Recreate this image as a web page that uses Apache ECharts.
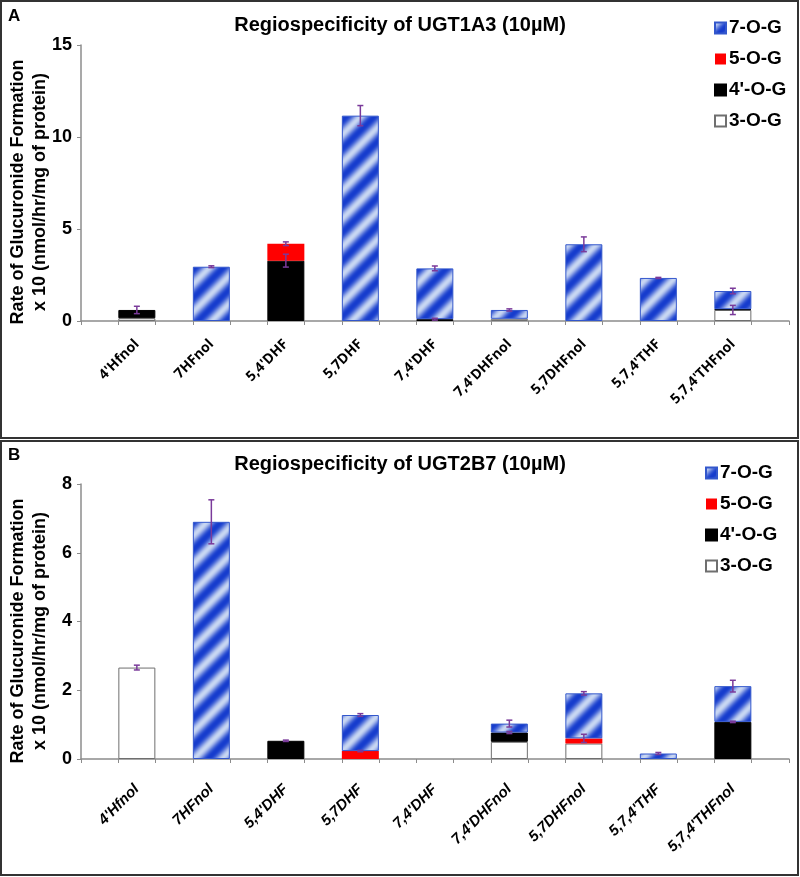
<!DOCTYPE html>
<html>
<head>
<meta charset="utf-8">
<script src="https://cdn.jsdelivr.net/npm/echarts@6/dist/echarts.min.js"></script>
<style>
html,body{margin:0;padding:0;background:#fff;}
#chart{width:800px;height:877px;}
</style>
</head>
<body>
<div id="chart"></div>
<script>
// ---------- DATA ----------
const categories = ["4'Hfnol","7HFnol","5,4'DHF","5,7DHF","7,4'DHF","7,4'DHFnol","5,7DHFnol","5,7,4'THF","5,7,4'THFnol"];
const seriesNames = ["3-O-G","4'-O-G","5-O-G","7-O-G"];
const legendOrder = ["7-O-G","5-O-G","4'-O-G","3-O-G"];

// Panel A: UGT1A3
const titleA = "Regiospecificity of UGT1A3 (10µM)";
const ticksA = [0,5,10,15];
const a3 = [0.15,0,0,0,0,0.12,0,0,0.6];
const a4 = [0.45,0,3.28,0,0.1,0,0,0,0.04];
const a5 = [0,0,0.92,0,0,0,0,0,0];
const a7 = [0,2.95,0,11.16,2.76,0.48,4.17,2.34,0.99];
const a3err = [null,null,null,null,null,null,null,null,0.25];
const a4err = [0.2,null,0.35,null,0.05,null,null,null,null];
const a5err = [null,null,0.1,null,null,null,null,null,null];
const a7err = [null,0.05,null,0.55,0.13,0.06,0.4,0.03,0.15];

// Panel B: UGT2B7
const titleB = "Regiospecificity of UGT2B7 (10µM)";
const ticksB = [0,2,4,6,8];
const b3 = [2.66,0,0,0,0,0.5,0.45,0,0];
const b4 = [0,0,0.53,0,0,0.27,0,0,1.08];
const b5 = [0,0,0,0.23,0,0,0.15,0,0];
const b7 = [0,6.9,0,1.05,0,0.26,1.31,0.16,1.04];
const b3err = [0.07,null,null,null,null,null,null,null,null];
const b4err = [null,null,0.02,null,null,0.03,null,null,0.02];
const b5err = [null,null,null,0.02,null,null,0.12,null,null];
const b7err = [null,0.64,null,0.04,null,0.1,0.05,0.03,0.17];

const yName1 = "Rate of Glucuronide Formation";
const yName2 = "x 10 (nmol/hr/mg of protein)";

// ---------- PATTERN ----------
function makeStripe(P){
  const c = document.createElement('canvas');
  c.width = P; c.height = P;
  const ctx = c.getContext('2d');
  const img = ctx.createImageData(P,P);
  const dark=[22,60,205], light=[200,214,242];
  for(let y=0;y<P;y++){for(let x=0;x<P;x++){
    const t = ((x+y)%P)/P;
    const k = Math.pow(0.5+0.5*Math.cos(2*Math.PI*t),1.2);
    const i=(y*P+x)*4;
    for(let ch=0;ch<3;ch++) img.data[i+ch]=Math.round(dark[ch]+(light[ch]-dark[ch])*k);
    img.data[i+3]=255;
  }}
  ctx.putImageData(img,0,0);
  return c;
}
const stripe = {image: makeStripe(28), repeat:'repeat'};

const styles = {
  "3-O-G": {color:'#ffffff', borderColor:'#6f6f6f', borderWidth:1},
  "4'-O-G": {color:'#000000', borderColor:'#000000', borderWidth:1},
  "5-O-G": {color:'#ff0000', borderColor:'#ff0000', borderWidth:0},
  "7-O-G": {color:stripe, borderColor:'#3357cc', borderWidth:1}
};

const FONT = 'Liberation Sans, Arial, sans-serif';
const AX = '#8c8c8c';

function panel(idx, top, height, ymax, yint, vals, errs, labelStyle){
  const gA = idx*2, gB = idx*2+1;
  const grids = [
    {left:81, right:11, top:top, height:height},
    {left:99.6, width:670.5, top:top, height:height}
  ];
  const xAxes = [
    {type:'value', gridIndex:gA, min:0, max:19, interval:1,
     axisLine:{show:true, lineStyle:{color:AX, width:1.5}},
     axisTick:{show:true, length:4, lineStyle:{color:AX}},
     axisLabel:{show:false}, splitLine:{show:false}},
    {type:'category', gridIndex:gB, data:categories,
     axisLine:{show:false}, axisTick:{show:false},
     axisLabel:Object.assign({rotate:45, interval:0, color:'#000', fontWeight:'bold'}, labelStyle)}
  ];
  const yAxes = [
    {type:'value', gridIndex:gA, min:0, max:ymax, interval:yint,
     axisLine:{show:true, lineStyle:{color:AX, width:1.5}},
     axisTick:{show:true, length:4, lineStyle:{color:AX}},
     axisLabel:{color:'#000', fontWeight:'bold', fontSize:18, fontFamily:FONT, margin:9},
     splitLine:{show:false}},
    {type:'value', gridIndex:gB, min:0, max:ymax, interval:yint, show:false, splitLine:{show:false}}
  ];
  const xi = idx*2+1, yi = idx*2+1;
  const series = [];
  seriesNames.forEach((n,si)=>{
    series.push({
      name:n, type:'bar', stack:'s'+idx, xAxisIndex:xi, yAxisIndex:yi,
      barWidth:37, itemStyle:styles[n],
      data: vals[si].map(v=> v>0 ? v : '-'),
      emphasis:{disabled:true}, z:2
    });
  });
  // error bars
  const errData = [];
  categories.forEach((c,ci)=>{
    let cum = 0;
    seriesNames.forEach((n,si)=>{
      cum += vals[si][ci];
      const e = errs[si][ci];
      if(e!=null) errData.push([ci, cum, e]);
    });
  });
  series.push({
    type:'custom', xAxisIndex:xi, yAxisIndex:yi, z:10, silent:true,
    data: errData,
    renderItem:function(params, api){
      const ci = api.value(0), c = api.value(1), e = api.value(2);
      const p1 = api.coord([ci, c+e]), p2 = api.coord([ci, c-e]);
      const st = {stroke:'#7a3a9a', lineWidth:1.5};
      const w = 3;
      return {type:'group', children:[
        {type:'line', shape:{x1:p1[0], y1:p1[1], x2:p2[0], y2:p2[1]}, style:st},
        {type:'line', shape:{x1:p1[0]-w, y1:p1[1], x2:p1[0]+w, y2:p1[1]}, style:st},
        {type:'line', shape:{x1:p2[0]-w, y1:p2[1], x2:p2[0]+w, y2:p2[1]}, style:st}
      ]};
    }
  });
  return {grids, xAxes, yAxes, series};
}

const pA = panel(0, 45, 276, 15, 5, [a3,a4,a5,a7], [a3err,a4err,a5err,a7err],
  {fontSize:14, margin:21, fontFamily:'Open Sans, sans-serif'});
const pB = panel(1, 484, 275, 8, 2, [b3,b4,b5,b7], [b3err,b4err,b5err,b7err],
  {fontSize:15, margin:28, fontFamily:FONT, fontStyle:'italic'});

function yNameGraphic(cy){
  return [
    {type:'text', x:18, y:cy, rotation:Math.PI/2,
     style:{text:yName1, fill:'#000', font:'bold 18px '+FONT, textAlign:'center', textVerticalAlign:'middle'}},
    {type:'text', x:40, y:cy, rotation:Math.PI/2,
     style:{text:yName2, fill:'#000', font:'bold 18px '+FONT, textAlign:'center', textVerticalAlign:'middle'}}
  ];
}

const legendBase = {
  orient:'vertical', data:legendOrder, itemWidth:11, itemHeight:11, itemGap:9,
  icon:'rect', selectedMode:false,
  textStyle:{fontSize:19, fontWeight:'bold', fontFamily:FONT, color:'#000', lineHeight:22, padding:[0,0,0,-2]}
};

const option = {
  backgroundColor:'#fff',
  animation:false,
  title:[
    {text:titleA, left:'center', top:10, textStyle:{fontSize:20, fontWeight:'bold', fontFamily:FONT, color:'#000'}},
    {text:titleB, left:'center', top:449, textStyle:{fontSize:20, fontWeight:'bold', fontFamily:FONT, color:'#000'}}
  ],
  legend:[
    Object.assign({left:709, top:12}, legendBase),
    Object.assign({left:700, top:457}, legendBase)
  ],
  grid:[...pA.grids, ...pB.grids],
  xAxis:[...pA.xAxes, ...pB.xAxes],
  yAxis:[...pA.yAxes, ...pB.yAxes],
  series:[...pA.series, ...pB.series],
  graphic:[
    {type:'rect', shape:{x:1, y:1, width:797, height:437}, style:{fill:null, stroke:'#333', lineWidth:2}, silent:true},
    {type:'rect', shape:{x:1, y:441, width:797, height:434}, style:{fill:null, stroke:'#333', lineWidth:2}, silent:true},
    {type:'text', x:8, y:8, style:{text:'A', fill:'#000', font:'bold 17px '+FONT}},
    {type:'text', x:8, y:447, style:{text:'B', fill:'#000', font:'bold 17px '+FONT}},
    ...yNameGraphic(192),
    ...yNameGraphic(631)
  ]
};

const chart = echarts.init(document.getElementById('chart'), null, {renderer:'canvas'});
chart.setOption(option);
</script>
</body>
</html>
